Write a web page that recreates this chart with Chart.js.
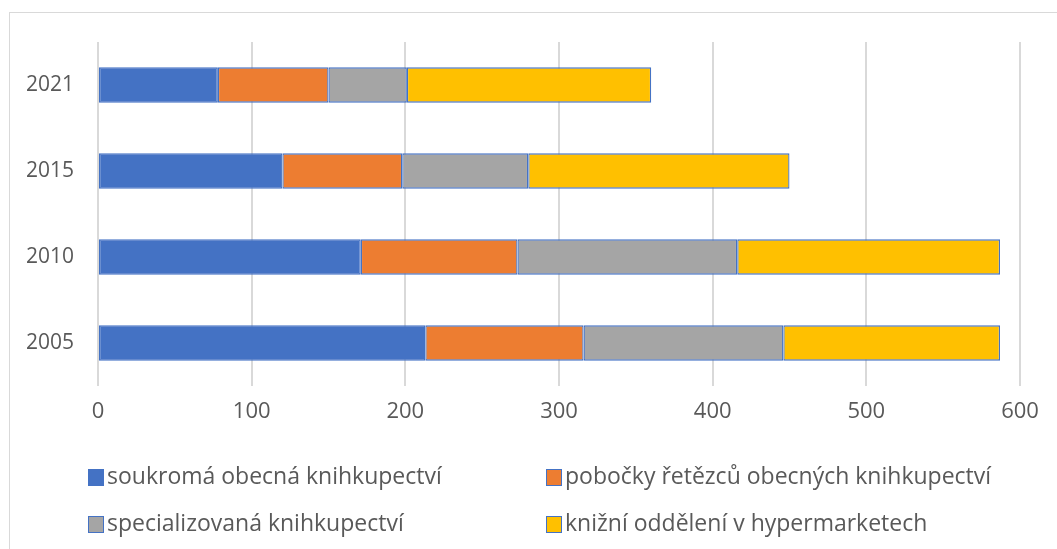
<!DOCTYPE html>
<html>
<head>
<meta charset="utf-8">
<script src="https://cdn.jsdelivr.net/npm/chart.js@4"></script>
<style>
  body { margin: 0; background: #fff; overflow: hidden; }
  #wrap { position: relative; width: 1057px; height: 549px; }
  #frame { position: absolute; left: 9px; top: 12px; width: 1100px; height: 600px; border: 1px solid #d9d9d9; }
  #chart { position: absolute; left: 0; top: 0; }
  .leg { position: absolute; font-family: "Open Sans", sans-serif; font-size: 23px; line-height: 30px; color: #595959; white-space: nowrap; }
  .leg i { display: inline-block; width: 14px; height: 15px; border: 1.5px solid #4472C4; margin-right: 3px; vertical-align: -2px; }
</style>
</head>
<body>
<div id="wrap">
  <div id="frame"></div>
  <canvas id="chart" width="1057" height="549"></canvas>
  <div id="legend"></div>
</div>
<script>
// data
var years = ['2021', '2015', '2010', '2005'];
var seriesNames = ['soukromá obecná knihkupectví', 'pobočky řetězců obecných knihkupectví', 'specializovaná knihkupectví', 'knižní oddělení v hypermarketech'];
var soukroma = [78, 120, 171, 213];
var pobocky = [72, 78, 102, 103];
var specializovana = [51, 82, 143, 130];
var hypermarkety = [159, 170, 171, 141];
var colors = ['#4472C4', '#ED7D31', '#A5A5A5', '#FFC000'];

document.addEventListener("DOMContentLoaded", function(event) {
  var values = [soukroma, pobocky, specializovana, hypermarkety];
  var datasets = values.map(function(v, i) {
    return {
      label: seriesNames[i],
      data: v,
      backgroundColor: colors[i],
      borderColor: '#4472C4',
      borderWidth: 1.3,
      borderSkipped: false,
      categoryPercentage: 1,
      barPercentage: 0.41
    };
  });

  var ctx = document.getElementById("chart").getContext("2d");
  new Chart(ctx, {
    type: 'bar',
    data: { labels: years, datasets: datasets },
    options: {
      indexAxis: 'y',
      responsive: false,
      animation: false,
      layout: { padding: { left: 0, top: 42, right: 37, bottom: 0 } },
      plugins: { legend: { display: false }, tooltip: { enabled: false } },
      scales: {
        x: {
          stacked: true,
          min: 0, max: 600,
          ticks: { stepSize: 100, color: '#595959', font: { family: 'Open Sans', size: 22 }, padding: 13 },
          grid: { color: '#d9d9d9', lineWidth: 2, drawTicks: false },
          border: { display: false },
          afterFit: function(scale) { scale.height = 163; }
        },
        y: {
          stacked: true,
          ticks: { color: '#595959', font: { family: 'Open Sans', size: 21 }, padding: 16 },
          grid: { display: false },
          border: { display: false },
          afterFit: function(scale) { scale.width = 98; }
        }
      }
    }
  });

  // legend in two columns like the original
  var pos = [[88, 460], [546, 460], [88, 507], [546, 507]];
  var leg = document.getElementById('legend');
  seriesNames.forEach(function(name, i) {
    var d = document.createElement('div');
    d.className = 'leg';
    d.style.left = pos[i][0] + 'px';
    d.style.top = pos[i][1] + 'px';
    d.innerHTML = '<i style="background:' + colors[i] + '"></i>' + name;
    leg.appendChild(d);
  });
});
</script>
</body>
</html>
